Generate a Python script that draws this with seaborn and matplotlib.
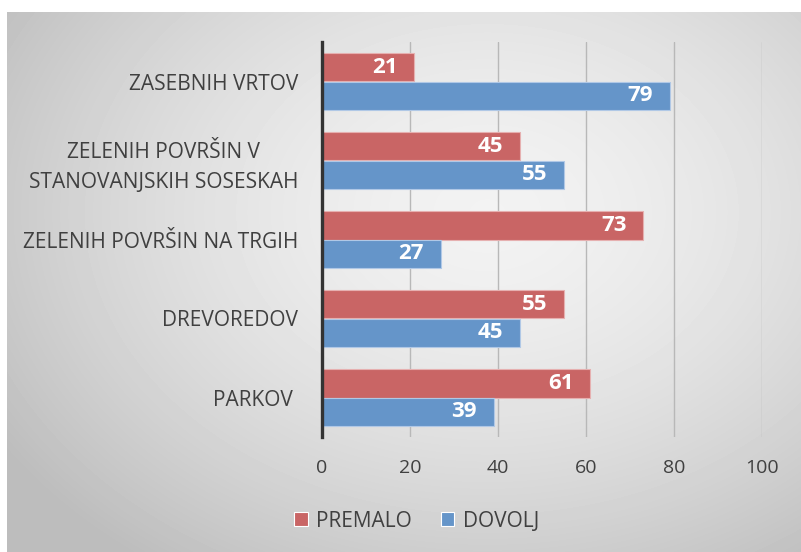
import numpy as np
import pandas as pd
import matplotlib.pyplot as plt
import seaborn as sns

# Data
categories = ['ZASEBNIH VRTOV', 'ZELENIH POVRŠIN V\nSTANOVANJSKIH SOSESKAH',
              'ZELENIH POVRŠIN NA TRGIH', 'DREVOREDOV', 'PARKOV ']
premalo = [21, 45, 73, 55, 61]
dovolj = [79, 55, 27, 45, 39]
series = ['PREMALO', 'DOVOLJ']
colors = ['#C96565', '#6595C9']

df = pd.DataFrame({
    'kategorija': categories * 2,
    'vrednost': premalo + dovolj,
    'odgovor': [series[0]] * len(categories) + [series[1]] * len(categories),
})

sns.set_style('white')
plt.rcParams['font.family'] = ['Open Sans', 'DejaVu Sans']

fig = plt.figure(figsize=(8.01, 5.52), dpi=100)
fig.patch.set_facecolor('white')

# radial gray gradient background
bg = fig.add_axes([7 / 801, 0, 1 - 7 / 801, 1 - 12 / 552], zorder=-5)
yy, xx = np.mgrid[0:540, 0:794]
r = np.sqrt(((xx - 480) / 560) ** 2 + ((yy - 200) / 420) ** 2)
shade = np.clip(0.95 - 0.2 * r ** 1.6, 0.74, 0.95)
bg.imshow(shade, cmap='gray', vmin=0, vmax=1, aspect='auto', interpolation='bilinear')
bg.axis('off')

ax = fig.add_axes([322 / 801, 1 - 437 / 552, 440 / 801, 395 / 552])
ax.set_facecolor('none')

sns.barplot(data=df, y='kategorija', x='vrednost', hue='odgovor', orient='h',
            palette=colors, saturation=1, width=0.71, ax=ax,
            edgecolor='#ffffff', linewidth=0.8)

for cont, col in zip(ax.containers, ['#e6b0b0', '#b0c8e6']):
    for p in cont:
        p.set_edgecolor(col)
    labels = ax.bar_label(cont, padding=-12, color='white', fontsize=16, fontweight='bold')
    for t in labels:
        t.set_ha('right')

ax.set_xlim(0, 100)
ax.set_xticks([0, 20, 40, 60, 80, 100])
ax.xaxis.grid(True, color='#b8b8b8', linewidth=1)
ax.set_axisbelow(True)
ax.set_xlabel('')
ax.set_ylabel('')
ax.tick_params(axis='x', length=0, pad=16, labelsize=14, labelcolor='#404040')
ax.tick_params(axis='y', length=0, pad=17, labelsize=15, labelcolor='#404040')
for lab in ax.get_yticklabels():
    lab.set_multialignment('center')
    lab.set_linespacing(1.55)

for s in ['top', 'right', 'bottom']:
    ax.spines[s].set_visible(False)
ax.spines['left'].set_color('#333333')
ax.spines['left'].set_linewidth(2.4)

handles, lbls = ax.get_legend_handles_labels()
ax.legend_.remove()
fig.legend(handles, lbls, loc='center', bbox_to_anchor=(0.52, 0.056), ncol=2,
           frameon=False, fontsize=15, labelcolor='#404040', handlelength=0.65,
           handleheight=0.65, handletextpad=0.4, columnspacing=1.4)

fig.savefig('out.png', dpi=100)
